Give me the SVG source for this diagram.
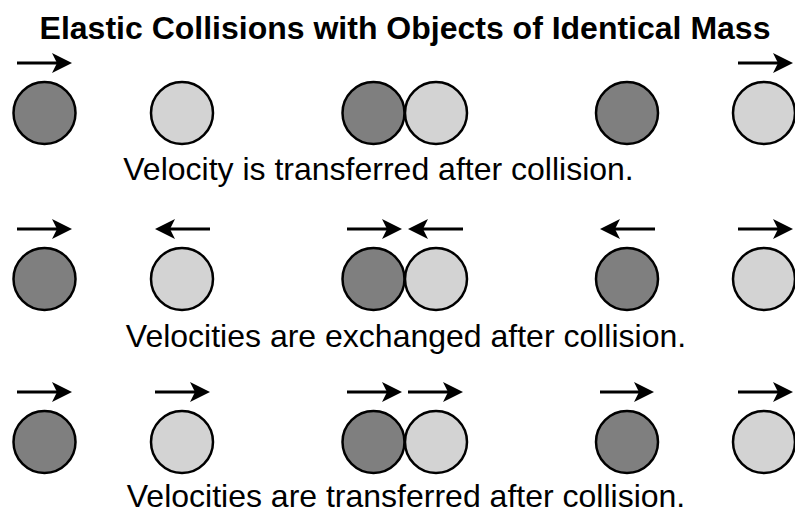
<svg xmlns="http://www.w3.org/2000/svg" width="795" height="514" viewBox="0 0 795 514">
<style>
.d{fill:#7f7f7f;stroke:#000;stroke-width:2.5}
.l{fill:#d3d3d3;stroke:#000;stroke-width:2.5}
.a{stroke:#000;stroke-width:3;fill:none;marker-end:url(#h)}
.t{font-family:"Liberation Sans",Arial,sans-serif;font-size:32px;fill:#000;text-anchor:middle}
.ti{font-family:"Liberation Sans",Arial,sans-serif;font-size:32px;font-weight:bold;fill:#000;text-anchor:middle}
</style>
<defs>
<marker id="h" markerUnits="userSpaceOnUse" viewBox="0 -10 20 20" refX="15" refY="0" markerWidth="20" markerHeight="20" orient="auto">
<path d="M0,-10 L20,0 L0,10 L5,0 Z" fill="#000"/>
</marker>
</defs>
<rect width="795" height="514" fill="#fff"/>
<text id="title" class="ti" x="405" y="39">Elastic Collisions with Objects of Identical Mass</text>
<g id="row1">
<circle id="r1a" class="d" cx="44.5" cy="113" r="31"/>
<circle id="r1b" class="l" cx="182" cy="113" r="31"/>
<circle id="r1c" class="d" cx="373.5" cy="113" r="31"/>
<circle id="r1d" class="l" cx="436" cy="113" r="31"/>
<circle id="r1e" class="d" cx="627" cy="113" r="31"/>
<circle id="r1f" class="l" cx="764" cy="113" r="31"/>
<text id="cap1" class="t" x="378.5" y="180">Velocity is transferred after collision.</text>
</g>
<g id="row2">
<circle id="r2a" class="d" cx="44.5" cy="279" r="31"/>
<circle id="r2b" class="l" cx="182" cy="279" r="31"/>
<circle id="r2c" class="d" cx="373.5" cy="279" r="31"/>
<circle id="r2d" class="l" cx="436" cy="279" r="31"/>
<circle id="r2e" class="d" cx="627" cy="279" r="31"/>
<circle id="r2f" class="l" cx="764" cy="279" r="31"/>
<text id="cap2" class="t" x="406" y="347">Velocities are exchanged after collision.</text>
</g>
<g id="row3">
<circle id="r3a" class="d" cx="44.5" cy="442" r="31"/>
<circle id="r3b" class="l" cx="182" cy="442" r="31"/>
<circle id="r3c" class="d" cx="373.5" cy="442" r="31"/>
<circle id="r3d" class="l" cx="436" cy="442" r="31"/>
<circle id="r3e" class="d" cx="627" cy="442" r="31"/>
<circle id="r3f" class="l" cx="764" cy="442" r="31"/>
<text id="cap3" class="t" x="406" y="507">Velocities are transferred after collision.</text>
</g>
<g id="connectors">
<line class="a" x1="17" y1="63" x2="67" y2="63"/>
<line class="a" x1="738" y1="63" x2="788" y2="63"/>
<line class="a" x1="17" y1="229" x2="67" y2="229"/>
<line class="a" x1="210" y1="229" x2="160" y2="229"/>
<line class="a" x1="347" y1="229" x2="397" y2="229"/>
<line class="a" x1="463" y1="229" x2="413" y2="229"/>
<line class="a" x1="655" y1="229" x2="605" y2="229"/>
<line class="a" x1="738" y1="229" x2="788" y2="229"/>
<line class="a" x1="17" y1="392" x2="67" y2="392"/>
<line class="a" x1="155" y1="392" x2="205" y2="392"/>
<line class="a" x1="347" y1="392" x2="397" y2="392"/>
<line class="a" x1="408" y1="392" x2="458" y2="392"/>
<line class="a" x1="600" y1="392" x2="649" y2="392"/>
<line class="a" x1="738" y1="392" x2="788" y2="392"/>
</g>
</svg>
